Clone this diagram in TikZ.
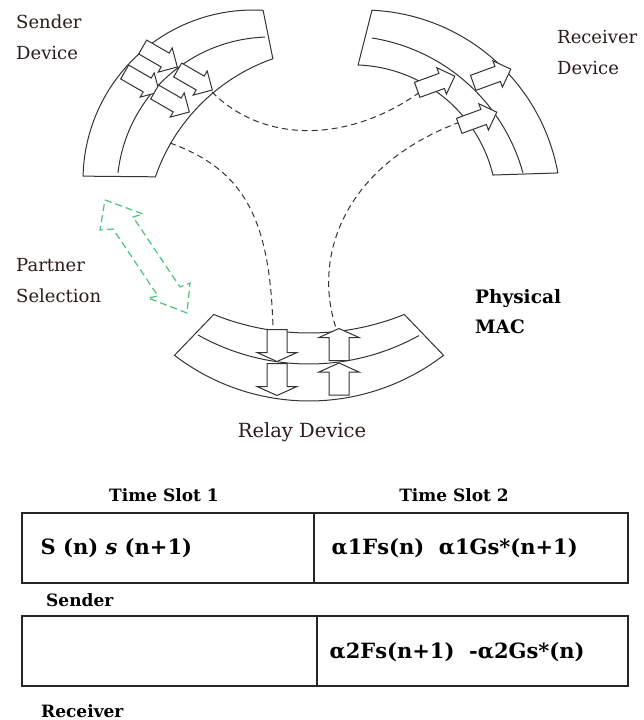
\documentclass[tikz,border=0pt]{standalone}
\usepackage{fontspec}
\setmainfont{DejaVu Serif}
\usepackage{tikz}
\usetikzlibrary{positioning}
\definecolor{selGreen}{HTML}{4CC47E}
\definecolor{labelInk}{HTML}{2A1C16}
\definecolor{devGray}{HTML}{333333}

\tikzset{
  devline/.style={draw=devGray, line width=1pt},
  arrbody/.style={draw=devGray, fill=white, line width=1pt},
  pics/sidearr/.style={code={
    \draw[arrbody] (-20,-8) -- (6,-8) -- (6,-14) -- (20,0) -- (6,14) -- (6,8) -- (-20,8) -- cycle;}},
  pics/layerarr/.style={code={
    \draw[arrbody] (-16,-10) -- (7,-10) -- (7,-20) -- (16,0) -- (7,20) -- (7,10) -- (-16,10) -- cycle;}},
  link/.style={draw=devGray, line width=1pt, dash pattern=on 6pt off 4pt},
  partnersel/.style={draw=selGreen, line width=1.2pt, dash pattern=on 7pt off 4pt},
  lbl/.style={font=\fontsize{18}{31}\selectfont, text=labelInk, align=left, inner sep=0pt},
  boldlbl/.style={font=\bfseries\fontsize{17}{30}\selectfont, align=left, inner sep=0pt},
  slotcell/.style={draw=black!85, line width=1.1pt, minimum height=70pt, inner sep=0pt},
  celltext/.style={font=\bfseries\fontsize{21}{24}\selectfont, anchor=west, inner sep=0pt},
}

\begin{document}
\begin{tikzpicture}[x=1pt,y=-1pt]
\useasboundingbox (0,0) rectangle (643,720);

% sender device
\draw[devline] plot[domain=181.3:273.4,samples=40] ({253+170*cos(\x)},{180+170*sin(\x)})
  -- plot[domain=250.7:199,samples=30] ({336+191*cos(\x)},{239+191*sin(\x)}) -- cycle;
\draw[devline] plot[domain=186.4:268.1,samples=40] ({270+153*cos(\x)},{190+153*sin(\x)});

% receiver device
\draw[devline] plot[domain=-87.4:-10.2,samples=40] ({363+198*cos(\x)},{208+198*sin(\x)})
  -- plot[domain=-13.7:-87.9,samples=40] ({352.8+144.3*cos(\x)},{209.2+144.3*sin(\x)}) -- cycle;
\draw[devline] plot[domain=-81:-15.4,samples=40] ({342.8+186.9*cos(\x)},{222.6+186.9*sin(\x)});

% relay device
\draw[devline] plot[domain=112:68,samples=40] ({309+254.4*cos(\x)},{78.6+254.4*sin(\x)})
  -- plot[domain=52.5:127.5,samples=40] ({309+221*cos(\x)},{180+221*sin(\x)}) -- cycle;
\draw[devline] plot[domain=61:119.3,samples=40] ({309+227*cos(\x)},{137+227*sin(\x)});

% links
\coordinate (sTip) at (212,92);
\coordinate (rTail) at (420,92);
\coordinate (sLow) at (170,143);
\coordinate (relL) at (273,328);
\coordinate (rLow) at (460,122);
\coordinate (relR) at (336,328);
\draw[link] (sTip) .. controls (265,145) and (350,142) .. (rTail);
\draw[link] (sLow) .. controls (245,170) and (270,220) .. (relL);
\draw[link] (rLow) .. controls (345,165) and (312,255) .. (relR);

% block arrows
\pic[rotate=-30] at (160,57) {sidearr};
\pic[rotate=-30] at (142,82) {sidearr};
\pic[rotate=-30] at (195,80) {sidearr};
\pic[rotate=-30] at (172,102) {sidearr};
\pic[rotate=20] at (436,83) {sidearr};
\pic[rotate=20] at (492,76) {sidearr};
\pic[rotate=20] at (478,119) {sidearr};
\pic[rotate=-90] at (277,345.5) {layerarr};
\pic[rotate=-90] at (277,379.5) {layerarr};
\pic[rotate=90] at (339,344.5) {layerarr};
\pic[rotate=90] at (339,379) {layerarr};

% partner selection
\draw[partnersel] (105,200) -- (143,214) -- (133,217) -- (180,287) -- (190,283) -- (187,313)
  -- (148,298) -- (158,296) -- (113,229) -- (100,230) -- cycle;

\node[lbl, anchor=west] (sendLbl) at (16,37.5) {Sender\\Device};
\node[lbl, anchor=west] (recvLbl) at (557,53) {Receiver\\Device};
\node[lbl, anchor=west] (partLbl) at (16,280.5) {Partner\\Selection};
\node[boldlbl, anchor=west, font=\bfseries\fontsize{18.5}{30}\selectfont] (phyLbl) at (475,312) {Physical\\MAC};
\node[lbl, font=\fontsize{19.5}{22}\selectfont] (relayLbl) at (302,432) {Relay Device};

% time slots
\node[slotcell, minimum width=292pt] (s1Send) at (168,548) {};
\node[slotcell, minimum width=314pt] (s2Send) at (471,548) {};
\node[slotcell, minimum width=295pt] (s1Recv) at (169.5,651) {};
\node[slotcell, minimum width=311pt] (s2Recv) at (472.5,651) {};
\node[boldlbl] (ts1) at (164,495) {Time Slot 1};
\node[boldlbl] (ts2) at (454,495) {Time Slot 2};
\node[boldlbl, anchor=west] (sendRow) at (46,600) {Sender};
\node[boldlbl, anchor=west] (recvRow) at (41,711) {Receiver};
\node[celltext, right=19pt of s1Send.west] (symS) {S (n) \textit{s} (n+1)};
\node[celltext, right=18pt of s2Send.west] (symF) {α1Fs(n)\ \ α1Gs*(n+1)};
\node[celltext, right=13pt of s2Recv.west, yshift=-1pt] (symG) {α2Fs(n+1)\ \ -α2Gs*(n)};
\end{tikzpicture}
\end{document}
